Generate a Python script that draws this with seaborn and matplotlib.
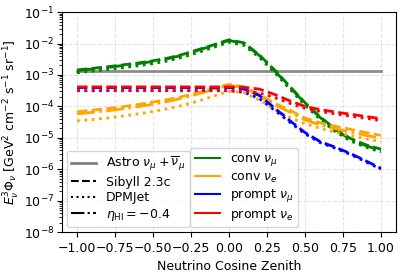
import matplotlib
matplotlib.use("Agg")
import matplotlib.pyplot as plt
from matplotlib.lines import Line2D
import pandas as pd
import seaborn as sns
import numpy as np

### data (log10 of E^3 Phi) ###
coszen = [-1.0, -0.9, -0.8, -0.7, -0.6, -0.5, -0.4, -0.3, -0.2, -0.1, 0.0,
          0.1, 0.2, 0.3, 0.4, 0.5, 0.6, 0.7, 0.8, 0.9, 1.0]

astro = -2.87

conv_mu_sib = [-2.84, -2.79, -2.74, -2.68, -2.62, -2.55, -2.46, -2.34, -2.19, -2.04, -1.88,
               -1.98, -2.36, -2.84, -3.36, -3.88, -4.33, -4.72, -5.02, -5.22, -5.36]
conv_mu_dpm = [-2.93, -2.88, -2.83, -2.77, -2.71, -2.64, -2.55, -2.43, -2.28, -2.12, -1.96,
               -2.06, -2.44, -2.92, -3.44, -3.96, -4.41, -4.80, -5.10, -5.30, -5.45]
conv_mu_eta = [-2.86, -2.81, -2.76, -2.70, -2.64, -2.57, -2.48, -2.36, -2.21, -2.06, -1.90,
               -2.00, -2.38, -2.86, -3.38, -3.90, -4.35, -4.74, -5.05, -5.25, -5.40]

conv_e_sib = [-4.17, -4.12, -4.07, -4.01, -3.94, -3.86, -3.78, -3.68, -3.56, -3.43, -3.30,
              -3.38, -3.62, -3.90, -4.12, -4.37, -4.52, -4.63, -4.73, -4.83, -4.92]
conv_e_dpm = [-4.46, -4.42, -4.37, -4.31, -4.24, -4.16, -4.07, -3.96, -3.83, -3.67, -3.52,
              -3.56, -3.80, -4.10, -4.35, -4.55, -4.70, -4.82, -4.93, -5.03, -5.12]
conv_e_eta = [-4.24, -4.19, -4.14, -4.08, -4.01, -3.93, -3.84, -3.73, -3.60, -3.46, -3.33,
              -3.41, -3.66, -3.95, -4.18, -4.43, -4.59, -4.71, -4.82, -4.92, -5.01]

prompt_mu_sib = [-3.40, -3.40, -3.40, -3.40, -3.40, -3.40, -3.40, -3.40, -3.40, -3.40, -3.40,
                 -3.45, -3.65, -4.05, -4.45, -4.83, -5.12, -5.30, -5.50, -5.73, -5.97]
prompt_mu_dpm = [-3.50, -3.50, -3.50, -3.50, -3.50, -3.50, -3.50, -3.50, -3.50, -3.50, -3.50,
                 -3.55, -3.75, -4.12, -4.50, -4.87, -5.15, -5.33, -5.53, -5.76, -6.00]
prompt_e_sib = [-3.38, -3.38, -3.38, -3.38, -3.38, -3.38, -3.38, -3.38, -3.38, -3.38, -3.38,
                -3.39, -3.45, -3.62, -3.82, -4.00, -4.10, -4.18, -4.25, -4.32, -4.39]
prompt_e_dpm = [-3.50, -3.50, -3.50, -3.50, -3.50, -3.50, -3.50, -3.50, -3.50, -3.50, -3.50,
                -3.51, -3.57, -3.72, -3.90, -4.06, -4.16, -4.24, -4.31, -4.38, -4.45]

### Plot ###
plt.rcParams["font.size"] = 9
fig, ax = plt.subplots(figsize=(4.07, 2.75), dpi=100)
fig.subplots_adjust(left=0.152, right=0.973, top=0.956, bottom=0.156)

df = pd.DataFrame({"cz": coszen})
sns.lineplot(x=df["cz"], y=np.full(len(coszen), 10**astro), ax=ax,
             color="gray", lw=2, alpha=0.9)

curves = [
    (conv_mu_sib, "green", "--"), (conv_mu_dpm, "green", ":"), (conv_mu_eta, "green", "-."),
    (conv_e_sib, "orange", "--"), (conv_e_dpm, "orange", ":"), (conv_e_eta, "orange", "-."),
    (prompt_mu_sib, "blue", "--"), (prompt_mu_dpm, "blue", ":"),
    (prompt_e_sib, "red", "--"), (prompt_e_dpm, "red", ":"),
]
for vals, col, ls in curves:
    sns.lineplot(x=df["cz"], y=10**np.array(vals), ax=ax, color=col,
                 linestyle=ls, lw=2)

ax.set_yscale("log")
ax.set_ylim(1e-8, 1e-1)
ax.set_xlim(-1.1, 1.1)
ax.set_xticks([-1.0, -0.75, -0.5, -0.25, 0.0, 0.25, 0.5, 0.75, 1.0])
ax.tick_params(axis="y", pad=2)
ax.grid(True, which="major", linestyle="--", color="lightgray", alpha=0.6)
ax.set_xlabel("Neutrino Cosine Zenith")
ax.set_ylabel(r"$E_\nu^3\Phi_\nu$ [GeV$^2$ cm$^{-2}$ s$^{-1}$ sr$^{-1}$]",
              fontsize=9, labelpad=1)

### two legends ###
h1 = [Line2D([], [], color="gray", lw=2),
      Line2D([], [], color="k", ls="--", lw=1.5),
      Line2D([], [], color="k", ls=":", lw=1.5),
      Line2D([], [], color="k", ls="-.", lw=1.5)]
l1 = [r"Astro $\nu_\mu + \overline{\nu}_\mu$", "Sibyll 2.3c", "DPMJet",
      r"$\eta_{\rm HI} = -0.4$"]
leg1 = ax.legend(h1, l1, loc="lower left", bbox_to_anchor=(0.0, 0.0),
                 labelspacing=0.2, borderaxespad=0.4, borderpad=0.35)
ax.add_artist(leg1)

h2 = [Line2D([], [], color=c, lw=1.5) for c in ["green", "orange", "blue", "red"]]
l2 = [r"conv $\nu_\mu$", r"conv $\nu_e$", r"prompt $\nu_\mu$", r"prompt $\nu_e$"]
ax.legend(h2, l2, loc="lower left", bbox_to_anchor=(0.37, 0.0),
          labelspacing=0.2, borderaxespad=0.4, borderpad=0.35)

fig.savefig("out.png", dpi=100)
